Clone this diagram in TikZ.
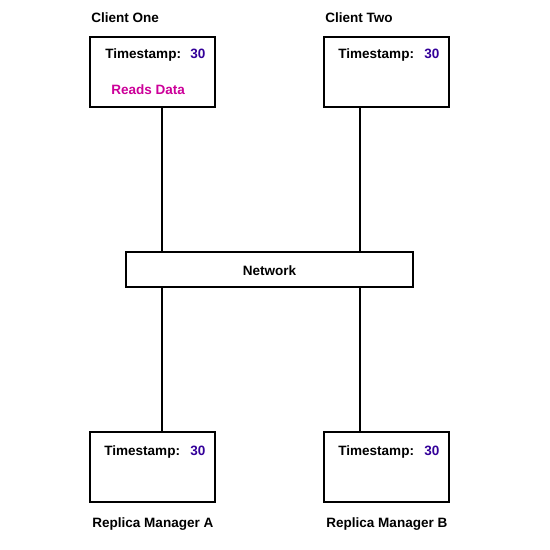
\documentclass[tikz,border=0pt]{standalone}
\usepackage{fontspec}
\setmainfont{Liberation Sans}
\definecolor{tsblue}{HTML}{330099}
\definecolor{readpink}{HTML}{CC0099}
\begin{document}
\begin{tikzpicture}[x=0.02cm, y=-0.02cm,
        box/.style={draw, line width=1.1pt, minimum width=2.5cm,
                minimum height=1.4cm, inner sep=0pt},
        txt/.style={anchor=base west, inner sep=0pt, font=\bfseries\fontsize{7.7}{9}\selectfont},
        link/.style={line width=1.1pt}
    ]
    \useasboundingbox (0,0) rectangle (550,550);

    \node[box] (c1) at (152.5,72) {};
    \node[box] (c2) at (386.5,72) {};
    \node[box, minimum width=5.74cm, minimum height=0.7cm] (net) at (269.5,269.5) {};
    \node[box] (ra) at (152.5,467) {};
    \node[box] (rb) at (386.5,467) {};

    \node[txt] (c1name) at (91,23) {Client One};
    \node[txt] (c2name) at (325,23) {Client Two};
    \node[txt] (raname) at (92,527) {Replica Manager A};
    \node[txt] (rbname) at (326,527) {Replica Manager B};
    \node[txt, anchor=base] (netname) at (269.5,275) {Network};

    \node[txt] (c1ts) at (105,59) {Timestamp:};
    \node[txt, text=tsblue] (c1val) at (190,59) {30};
    \node[txt, text=readpink] (c1read) at (111,95) {Reads Data};
    \node[txt] (c2ts) at (338,59) {Timestamp:};
    \node[txt, text=tsblue] (c2val) at (424,59) {30};
    \node[txt] (rats) at (104,455) {Timestamp:};
    \node[txt, text=tsblue] (raval) at (190,455) {30};
    \node[txt] (rbts) at (338,455) {Timestamp:};
    \node[txt, text=tsblue] (rbval) at (424,455) {30};

    % line positions on the network box
    \coordinate (left) at (162,0);
    \coordinate (right) at (360,0);

    \draw[link] (c1.south -| left) -- (net.north -| left);
    \draw[link] (c2.south -| right) -- (net.north -| right);
    \draw[link] (net.south -| left) -- (ra.north -| left);
    \draw[link] (net.south -| right) -- (rb.north -| right);
\end{tikzpicture}
\end{document}
